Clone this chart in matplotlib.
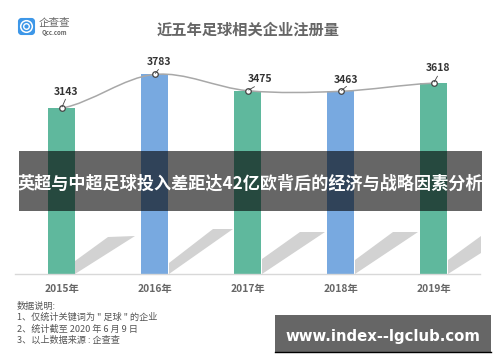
import matplotlib
matplotlib.use("Agg")
import matplotlib.pyplot as plt
from matplotlib.patches import Polygon, Rectangle, FancyBboxPatch, Circle, PathPatch
from matplotlib.path import Path

plt.rcParams['font.family'] = ['Noto Sans CJK SC', 'DejaVu Sans']

years = ['2015年', '2016年', '2017年', '2018年', '2019年']
values = [3143, 3783, 3475, 3463, 3618]
bar_colors = ['#5fb89d', '#78a9e0', '#5fb89d', '#78a9e0', '#5fb89d']
title = '近五年足球相关企业注册量'
banner = '英超与中超足球投入差距达42亿欧背后的经济与战略因素分析'
site = 'www.index--lgclub.com'
notes = ['数据说明:', '1、仅统计关键词为 " 足球 " 的企业', '2、统计截至 2020 年 6 月 9 日', '3、以上数据来源 : 企查查']
label_offsets = [(5, 16.5), (5, 12.5), (13, 12), (6, 11.5), (5, 15)]
leader_offsets = [(4, 9), (4, 5), (7, 4), (6, 5), (4, 7)]
shadows = [
    [(75, 261), (108, 237), (135, 236), (75, 274)],
    [(169, 263), (213, 229), (233, 229), (169, 274)],
    [(262, 259), (300, 232), (325, 232), (262, 274)],
    [(355, 260), (393, 232), (418, 232), (355, 274)],
    [(448, 260), (481, 236), (481, 253), (448, 274)],
]

W, H = 500, 362
fig = plt.figure(figsize=(W / 100, H / 100), dpi=100, facecolor='white')

# main chart axes: x 15..480 px, baseline at y=274 px
ax = fig.add_axes([15 / W, (H - 274) / H, 465 / W, 211 / H])
ax.set_xlim(-0.5, 4.5)
ax.set_ylim(0, 4000)
ax.patch.set_alpha(0)
for s in ['top', 'left', 'right']:
    ax.spines[s].set_visible(False)
ax.spines['bottom'].set_color('#d8d8d8')
ax.spines['bottom'].set_linewidth(1.0)
ax.set_yticks([])
ax.set_xticks(range(len(years)))
ax.set_xticklabels(years, fontsize=7.4, color='#666666', fontweight='bold')
ax.tick_params(axis='x', length=0, pad=7)

ax.bar(range(len(values)), values, width=0.295, color=bar_colors, zorder=2)

# smooth line through the values (Catmull-Rom segments)
verts = [(0, values[0])]
codes = [Path.MOVETO]
n = len(values)
for i in range(n - 1):
    y0 = values[max(i - 1, 0)]
    y1, y2 = values[i], values[i + 1]
    y3 = values[min(i + 2, n - 1)]
    verts += [(i + 1 / 3, y1 + (y2 - y0) / 6), (i + 2 / 3, y2 - (y3 - y1) / 6), (i + 1, y2)]
    codes += [Path.CURVE4] * 3
ax.add_patch(PathPatch(Path(verts, codes), fill=False, ec='#a8a8a8', lw=1.1, zorder=3))
ax.plot(range(n), values, ls='none', marker='o', ms=4, mfc='white', mec='#444444', mew=0.9, zorder=4)

for i, v in enumerate(values):
    dx, dy = label_offsets[i]
    lx, ly = leader_offsets[i]
    ax.annotate('', xy=(i, v), xytext=(lx * 0.72, ly * 0.72), textcoords='offset points',
                arrowprops=dict(arrowstyle='-', color='#444444', lw=0.6, shrinkA=0, shrinkB=1), zorder=4)
    ax.annotate(str(v), xy=(i, v), xytext=(dx * 0.72, dy * 0.72), textcoords='offset points',
                ha='center', va='center', fontsize=7.5, color='#333333', fontweight='bold', zorder=5)

# overlay in pixel coordinates
ov = fig.add_axes([0, 0, 1, 1], zorder=5)
ov.set_xlim(0, W)
ov.set_ylim(H, 0)
ov.axis('off')

for s in shadows:
    ov.add_patch(Polygon(s, closed=True, fc='#d2d2d2', ec='none', zorder=1))

ov.text(248.5, 30, title, fontsize=11, fontweight='bold', color='#666666', ha='center', va='center')

# logo
ov.add_patch(FancyBboxPatch((19, 19), 15, 15, boxstyle='round,pad=0,rounding_size=2.5', fc='#3d97e8', ec='#3d97e8', lw=1.5))
ov.add_patch(Circle((26.5, 26.5), 5.8, fc='none', ec='white', lw=1.1))
ov.add_patch(Circle((26.5, 26.5), 2.8, fc='none', ec='white', lw=1.0))
ov.text(54, 23, '企查查', fontsize=7.6, color='#666666', ha='center', va='center')
ov.text(54, 32.5, 'Qcc.com', fontsize=4.3, color='#666666', ha='center', va='center', fontweight='bold')

# notes
for y, t in zip([306, 317.5, 329, 340.5], notes):
    ov.text(17, y, t, fontsize=6.6, color='#555555', ha='left', va='center')

# banner
ov.add_patch(Rectangle((19, 151), 463, 60, fc='black', ec='none', alpha=0.6, zorder=6))
ov.text(250, 184, banner, fontsize=12.3, fontweight='bold', color='white', ha='center', va='center', zorder=7)

# site badge
ov.add_patch(Rectangle((275, 315), 216, 37, fc='#666666', ec='none', zorder=6))
ov.plot([275, 491], [352, 352], color='black', lw=1, zorder=7)
ov.text(383, 336, site, fontsize=10.7, fontweight='bold', color='white', ha='center', va='center',
        family='DejaVu Sans', zorder=7)

fig.savefig('out.png', dpi=100)
